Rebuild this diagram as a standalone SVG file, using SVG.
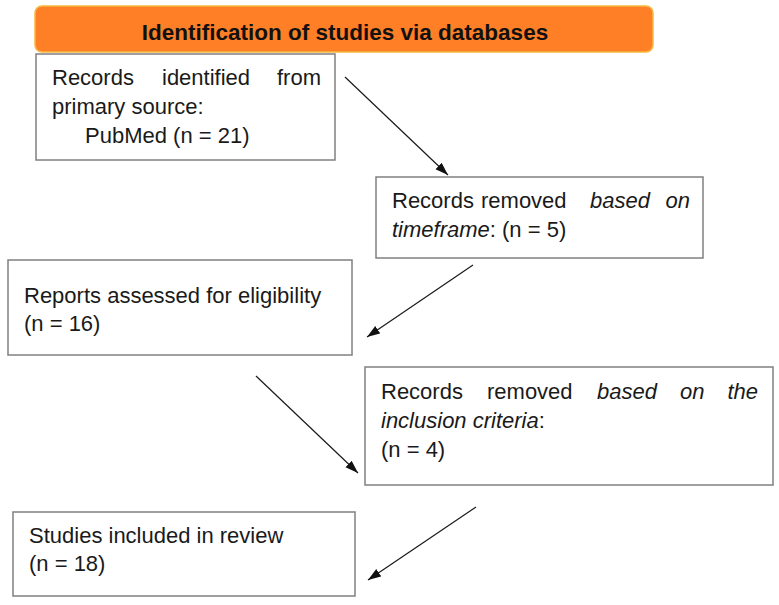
<svg xmlns="http://www.w3.org/2000/svg" width="779" height="605" viewBox="0 0 779 605">
<defs>
<style>
.box{fill:#fff;stroke:#808080;stroke-width:1.5}
.t{font-family:"Liberation Sans",Arial,sans-serif;font-size:22px;fill:#1a1a1a}
.i{font-style:italic}
.hdr{font-family:"Liberation Sans",Arial,sans-serif;font-size:22.5px;font-weight:bold;fill:#111}
.ln{stroke:#1a1a1a;stroke-width:1.2;fill:none}
</style>
<marker id="ah" markerUnits="userSpaceOnUse" markerWidth="14" markerHeight="10" refX="13" refY="4.5" orient="auto">
<path d="M0,0 L13,4.5 L0,9 z" fill="#111"/>
</marker>
</defs>
<rect width="779" height="605" fill="#fff"/>
<g id="header">
<rect x="35" y="6" width="618" height="46" rx="7" fill="#FF7F27" stroke="#F7B840" stroke-width="1.5"/>
<text class="hdr" x="345" y="40" text-anchor="middle">Identification of studies via databases</text>
</g>
<g id="n1">
<rect class="box" x="36" y="54" width="299" height="106"/>
<text class="t" x="52" y="85">Records</text>
<text class="t" x="162" y="85">identified</text>
<text class="t" x="321" y="85" text-anchor="end">from</text>
<text class="t" x="52" y="114">primary source:</text>
<text class="t" x="85" y="143">PubMed (n = 21)</text>
</g>
<g id="n2">
<rect class="box" x="376" y="177" width="327" height="81"/>
<text class="t" x="392" y="208">Records</text>
<text class="t" x="481" y="208">removed</text>
<text class="t i" x="590" y="208">based</text>
<text class="t i" x="690" y="208" text-anchor="end">on</text>
<text class="t" x="392" y="237"><tspan class="i">timeframe</tspan>: (n = 5)</text>
</g>
<g id="n3">
<rect class="box" x="8" y="260" width="344" height="95"/>
<text class="t" x="24" y="303">Reports assessed for eligibility</text>
<text class="t" x="24" y="331">(n = 16)</text>
</g>
<g id="n4">
<rect class="box" x="365" y="367" width="408" height="118"/>
<text class="t" x="381" y="399">Records</text>
<text class="t" x="487" y="399">removed</text>
<text class="t i" x="597" y="399">based</text>
<text class="t i" x="680" y="399">on</text>
<text class="t i" x="758" y="399" text-anchor="end">the</text>
<text class="t" x="381" y="428"><tspan class="i">inclusion criteria</tspan>:</text>
<text class="t" x="381" y="457">(n = 4)</text>
</g>
<g id="n5">
<rect class="box" x="13" y="512" width="342" height="84"/>
<text class="t" x="29" y="543">Studies included in review</text>
<text class="t" x="29" y="571">(n = 18)</text>
</g>
<g id="connectors">
<line class="ln" x1="345" y1="77" x2="448" y2="175" marker-end="url(#ah)"/>
<line class="ln" x1="473" y1="265" x2="367" y2="337" marker-end="url(#ah)"/>
<line class="ln" x1="256" y1="376" x2="358" y2="473" marker-end="url(#ah)"/>
<line class="ln" x1="476" y1="507" x2="368" y2="580" marker-end="url(#ah)"/>
</g>
</svg>
